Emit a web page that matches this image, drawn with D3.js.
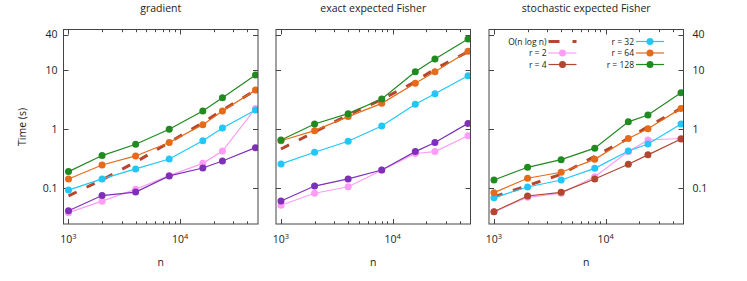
<!DOCTYPE html>
<html>
<head>
<meta charset="utf-8">
<script src="https://cdn.jsdelivr.net/npm/d3@7"></script>
<style>
  body { margin: 0; background: #fff; }
  svg { display: block; font-family: "Open Sans", sans-serif; }
</style>
</head>
<body>
<script>

/* DATA */
const nValues = [1000, 2000, 4000, 8000, 16000, 24000, 47500];
const panelTitles = ["gradient", "exact expected Fisher", "stochastic expected Fisher"];
const seriesNames = ["O(n log n)", "r = 2", "r = 4", "r = 32", "r = 64", "r = 128"];

// gradient
const gradNlogn = [0.075, 0.14, 0.28, 0.6, 1.3, 2.1, 4.6];
const gradR2 = [0.039, 0.061, 0.097, 0.165, 0.266, 0.43, 2.26];
const gradR4 = [0.042, 0.076, 0.087, 0.163, 0.222, 0.292, 0.49];
const gradR32 = [0.094, 0.145, 0.214, 0.315, 0.64, 1.05, 2.12];
const gradR64 = [0.145, 0.25, 0.355, 0.6, 1.2, 2.04, 4.6];
const gradR128 = [0.193, 0.36, 0.56, 1.0, 2.04, 3.42, 8.3];

// exact expected Fisher
const exactNlogn = [0.465, 0.9, 1.75, 3.2, 6.4, 10.5, 20.5];
const exactR2 = [0.052, 0.083, 0.107, 0.203, 0.39, 0.42, 0.78];
const exactR4 = [0.0615, 0.11, 0.145, 0.205, 0.42, 0.6, 1.26];
const exactR32 = [0.26, 0.41, 0.63, 1.14, 2.66, 4.0, 8.05];
const exactR64 = [0.64, 0.95, 1.64, 2.75, 6.0, 9.4, 20.8];
const exactR128 = [0.66, 1.23, 1.84, 3.25, 9.4, 15.4, 33.6];

// stochastic expected Fisher
const stochNlogn = [0.072, 0.112, 0.174, 0.35, 0.7, 1.11, 2.26];
const stochR2 = [0.0405, 0.071, 0.083, 0.158, 0.42, 0.66, 0.7];
const stochR4 = [0.0405, 0.0747, 0.086, 0.145, 0.257, 0.37, 0.685];
const stochR32 = [0.07, 0.106, 0.139, 0.219, 0.43, 0.565, 1.23];
const stochR64 = [0.085, 0.149, 0.188, 0.311, 0.7, 1.02, 2.26];
const stochR128 = [0.139, 0.228, 0.307, 0.48, 1.34, 1.75, 4.17];

const yTicks = [0.1, 1, 10, 40];
const yTickLabels = ["0.1", "1", "10", "40"];
const xMajorTicks = [1000, 10000];
const xMajorExp = ["3", "4"];
const xMinorTicks = [2000, 3000, 4000, 5000, 6000, 7000, 8000, 9000, 20000, 30000, 40000];

/* CONSTANTS */
const WIDTH = 747;
const HEIGHT = 281;
const TOP = 29.5;
const BOTTOM = 224;
const PW = 194.5;
const LEFTS = [63.5, 276, 489];
const TEXT = "#222";
const FRAME = "#444";

const panels = [
    {series: [gradNlogn, gradR2, gradR4, gradR32, gradR64, gradR128],
     colors: ["#b5472f", "#ff9cf5", "#7e30b8", "#22c8f5", "#e56b1a", "#218a21"]},
    {series: [exactNlogn, exactR2, exactR4, exactR32, exactR64, exactR128],
     colors: ["#b5472f", "#ff9cf5", "#7e30b8", "#22c8f5", "#e56b1a", "#218a21"]},
    {series: [stochNlogn, stochR2, stochR4, stochR32, stochR64, stochR128],
     colors: ["#b5472f", "#ff9cf5", "#b04830", "#22c8f5", "#e56b1a", "#218a21"]}
];

const svg = d3.select("body")
    .append("svg")
    .attr("width", WIDTH)
    .attr("height", HEIGHT);

const y = d3.scaleLog()
    .domain([0.0251, 48.7])
    .range([BOTTOM, TOP]);

panels.forEach(function(p, i) {
    const left = LEFTS[i];
    const x = d3.scaleLog()
        .domain([902, 50000])
        .range([left, left + PW]);

    const g = svg.append("g");

    // clip region
    const clipId = "clip" + i;
    g.append("clipPath").attr("id", clipId)
        .append("rect")
        .attr("x", left).attr("y", TOP)
        .attr("width", PW).attr("height", BOTTOM - TOP);

    // ticks on all four sides, pointing in
    const tickG = g.append("g").attr("stroke", FRAME).attr("stroke-width", 1);
    xMajorTicks.concat(xMinorTicks).forEach(function(t) {
        const len = xMajorTicks.includes(t) ? 5 : 2.7;
        const xx = Math.round(x(t)) + 0.5;
        tickG.append("line").attr("x1", xx).attr("x2", xx).attr("y1", BOTTOM).attr("y2", BOTTOM - len);
        tickG.append("line").attr("x1", xx).attr("x2", xx).attr("y1", TOP).attr("y2", TOP + len);
    });
    yTicks.forEach(function(t) {
        const yy = Math.round(y(t)) + 0.5;
        tickG.append("line").attr("x1", left).attr("x2", left + 5).attr("y1", yy).attr("y2", yy);
        tickG.append("line").attr("x1", left + PW).attr("x2", left + PW - 5).attr("y1", yy).attr("y2", yy);
    });

    // x tick labels
    xMajorTicks.forEach(function(t, k) {
        const txt = g.append("text")
            .attr("x", x(t))
            .attr("y", 243)
            .attr("text-anchor", "middle")
            .attr("fill", TEXT)
            .attr("font-size", 10.5);
        txt.append("tspan").text("10");
        txt.append("tspan").attr("dy", -4).attr("font-size", 7.5).text(xMajorExp[k]);
    });

    // y tick labels on outer panels
    if (i === 0 || i === 2) {
        yTicks.forEach(function(t, k) {
            g.append("text")
                .attr("x", i === 0 ? left - 6 : left + PW + 9)
                .attr("y", y(t) + 3.8)
                .attr("text-anchor", i === 0 ? "end" : "start")
                .attr("fill", TEXT)
                .attr("font-size", 10.5)
                .text(yTickLabels[k]);
        });
    }

    // title and x label
    g.append("text")
        .attr("x", left + PW / 2)
        .attr("y", 11.5)
        .attr("text-anchor", "middle")
        .attr("fill", TEXT)
        .attr("font-size", 10.5)
        .text(panelTitles[i]);
    g.append("text")
        .attr("x", left + PW / 2)
        .attr("y", 266)
        .attr("text-anchor", "middle")
        .attr("fill", TEXT)
        .attr("font-size", 10.5)
        .text("n");

    // series
    const line = d3.line()
        .x(function(d, k) { return x(nValues[k]); })
        .y(function(d) { return y(d); });

    const plot = g.append("g").attr("clip-path", "url(#" + clipId + ")");
    p.series.forEach(function(s, k) {
        if (k === 0) {
            plot.append("path")
                .attr("d", line(s))
                .attr("fill", "none")
                .attr("stroke", p.colors[k])
                .attr("stroke-width", 3)
                .attr("stroke-dasharray", "9,11");
            return;
        }
        plot.append("path")
            .attr("d", line(s))
            .attr("fill", "none")
            .attr("stroke", p.colors[k])
            .attr("stroke-width", 1.2);
        plot.selectAll(null)
            .data(s)
            .enter()
            .append("circle")
            .attr("cx", function(d, j) { return x(nValues[j]); })
            .attr("cy", function(d) { return y(d); })
            .attr("r", 3.5)
            .attr("fill", p.colors[k]);
    });

    // frame
    g.append("rect")
        .attr("x", left).attr("y", TOP)
        .attr("width", PW).attr("height", BOTTOM - TOP)
        .attr("fill", "none")
        .attr("stroke", FRAME)
        .attr("stroke-width", 1);

    // legend in last panel
    if (i === 2) {
        const cols = [[0, 1, 2], [3, 4, 5]];
        const textX = [546.5, 634];
        const rowY = [41.5, 53, 64.5];
        cols.forEach(function(col, c) {
            col.forEach(function(k, r) {
                const ly = rowY[r];
                g.append("text")
                    .attr("x", textX[c])
                    .attr("y", ly + 3)
                    .attr("text-anchor", "end")
                    .attr("fill", TEXT)
                    .attr("font-size", 8.5)
                    .text(seriesNames[k]);
                const lx = textX[c] + 2;
                const seg = g.append("line")
                    .attr("x1", lx).attr("x2", lx + 28)
                    .attr("y1", ly).attr("y2", ly)
                    .attr("stroke", p.colors[k]);
                if (k === 0) {
                    seg.attr("stroke-width", 3).attr("stroke-dasharray", "11,13");
                } else {
                    seg.attr("stroke-width", 1.2);
                    g.append("circle")
                        .attr("cx", lx + 14).attr("cy", ly).attr("r", 3.5)
                        .attr("fill", p.colors[k]);
                }
            });
        });
    }
});

// y axis label
svg.append("text")
    .attr("transform", "translate(26,127) rotate(-90)")
    .attr("text-anchor", "middle")
    .attr("fill", TEXT)
    .attr("font-size", 10.5)
    .text("Time (s)");

</script>
</body>
</html>
